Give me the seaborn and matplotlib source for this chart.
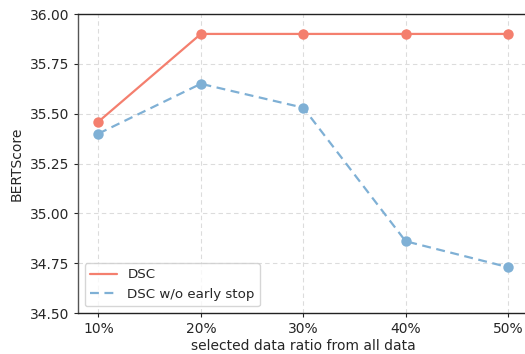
import matplotlib
matplotlib.use("Agg")
import matplotlib.pyplot as plt
from matplotlib.lines import Line2D
import seaborn as sns
import pandas as pd

ratios = ["10%", "20%", "30%", "40%", "50%"]
dsc = [35.46, 35.90, 35.90, 35.90, 35.90]
dsc_no_stop = [35.40, 35.65, 35.53, 34.86, 34.73]

sns.set_style("white")
plt.rcParams['font.family'] = ['DejaVu Sans']

df = pd.DataFrame({
    "x": list(range(len(ratios))) * 2,
    "score": dsc + dsc_no_stop,
    "series": ["DSC"] * len(ratios) + ["DSC w/o early stop"] * len(ratios),
})

fig = plt.figure(figsize=(5.25, 3.54), dpi=100)
ax = fig.add_axes([78 / 525, 1 - 313 / 354, (528.5 - 78) / 525, (313 - 14) / 354])

red = "#F47F6E"
blue = "#7FB0D5"
sns.lineplot(data=df[df.series == "DSC"], x="x", y="score", ax=ax, color=red,
             linewidth=1.6, marker="o", markersize=7.5, markeredgewidth=0,
             legend=False)
sns.lineplot(data=df[df.series == "DSC w/o early stop"], x="x", y="score", ax=ax,
             color=blue, linewidth=1.6, linestyle=(0, (4, 2.5)), marker="o",
             markersize=7.5, markeredgewidth=0, legend=False)

ax.set_xlim(-0.2, 4.2)
ax.set_ylim(34.5, 36.0)
ax.set_xticks(range(len(ratios)))
ax.set_xticklabels(ratios)
ax.set_yticks([34.5, 34.75, 35.0, 35.25, 35.5, 35.75, 36.0])
ax.yaxis.set_major_formatter(matplotlib.ticker.FormatStrFormatter("%.2f"))
ax.grid(True, linestyle=(0, (4, 3)), color="#dcdcdc", linewidth=0.8)
ax.set_xlabel("selected data ratio from all data", fontsize=10, labelpad=2)
ax.set_ylabel("BERTScore", fontsize=10)
ax.tick_params(axis="both", labelsize=10, length=3, left=True, bottom=True)
for s in ax.spines.values():
    s.set_color("#222222")
    s.set_linewidth(1.0)
ax.spines["left"].set_color("#555555")
ax.spines["right"].set_visible(False)

handles = [Line2D([], [], color=red, linewidth=1.6),
           Line2D([], [], color=blue, linewidth=1.6, linestyle=(0, (4, 2.5)))]
ax.legend(handles, ["DSC", "DSC w/o early stop"], loc="lower left",
          fontsize=9.6, frameon=True, handlelength=2.0)

fig.savefig("out.png", dpi=100)
